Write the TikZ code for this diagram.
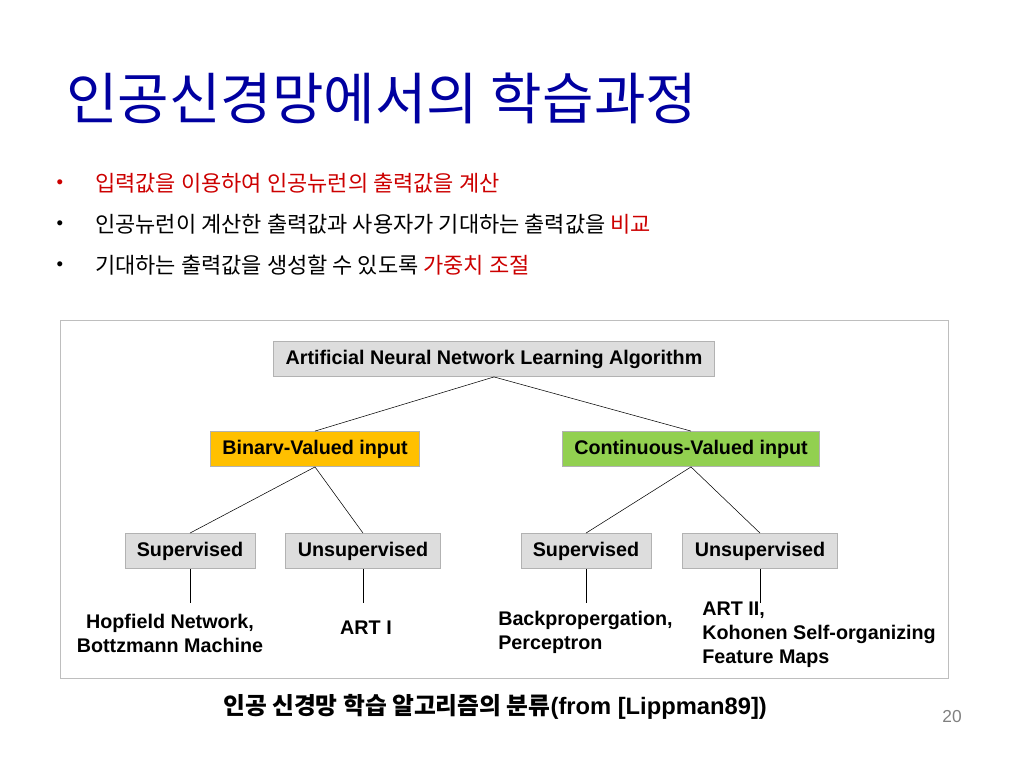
\documentclass[tikz,border=0pt]{standalone}
\usepackage{fontspec}
\setmainfont{Liberation Sans}
\newfontfamily\kor{Noto Sans CJK KR}
\definecolor{titleblue}{RGB}{0,0,160}
\definecolor{keyred}{RGB}{204,0,0}
\definecolor{boxfill}{RGB}{221,221,221}
\definecolor{boxline}{RGB}{178,178,178}
\definecolor{framegray}{RGB}{190,190,190}
\definecolor{binfill}{RGB}{255,192,0}
\definecolor{contfill}{RGB}{146,208,80}
\tikzset{
  catbox/.style={draw=boxline, fill=boxfill, inner xsep=9pt, minimum height=26.5pt,
    font=\bfseries\fontsize{14.8}{17}\selectfont},
  leaf/.style={font=\bfseries\fontsize{14.8}{18}\selectfont, inner sep=0pt},
  bulletline/.style={anchor=west, font=\kor\fontsize{16.5}{19}\selectfont, inner sep=0pt},
  dot/.style={font=\fontsize{14}{14}\selectfont, inner sep=0pt},
}
\begin{document}
\begin{tikzpicture}[x=0.75pt,y=-0.75pt]
\useasboundingbox (0,0) rectangle (1024,768);
% title and bullets
\node[anchor=west, inner sep=0pt, text=titleblue, font=\kor\fontsize{42}{48}\selectfont] (title) at (66,98) {인공신경망에서의 학습과정};
\node[dot, text=keyred] (d1) at (60,184) {\textbullet};
\node[dot] (d2) at (60,225) {\textbullet};
\node[dot] (d3) at (60,266) {\textbullet};
\node[bulletline, text=keyred] (l1) at (95,183) {입력값을 이용하여 인공뉴런의 출력값을 계산};
\node[bulletline] (l2) at (95,224) {인공뉴런이 계산한 출력값과 사용자가 기대하는 출력값을 \textcolor{keyred}{비교}};
\node[bulletline] (l3) at (95,265) {기대하는 출력값을 생성할 수 있도록 \textcolor{keyred}{가중치 조절}};
% tree
\draw[framegray] (60,320) rectangle (948,678);
\node[catbox] (root) at (494,359) {Artificial Neural Network Learning Algorithm};
\node[catbox, fill=binfill] (bin) at (315,449) {Binarv-Valued input};
\node[catbox, fill=contfill] (cont) at (691,449) {Continuous-Valued input};
\node[catbox] (sup1) at (190,551) {Supervised};
\node[catbox] (uns1) at (363,551) {Unsupervised};
\node[catbox] (sup2) at (586,551) {Supervised};
\node[catbox] (uns2) at (760,551) {Unsupervised};
\node[leaf, align=center] (hop) at (170,633) {Hopfield Network,\\Bottzmann Machine};
\node[leaf] (art1) at (366,628) {ART I};
\node[leaf, align=left, anchor=west] (bp) at (498,632) {Backpropergation,\\Perceptron};
\node[leaf, align=left, anchor=west] (art2) at (702,635) {ART II,\\Kohonen Self-organizing\\Feature Maps};
\coordinate (leafline) at (0,603);
\draw (root.south) -- (bin.north);
\draw (root.south) -- (cont.north);
\draw (bin.south) -- (sup1.north);
\draw (bin.south) -- (uns1.north);
\draw (cont.south) -- (sup2.north);
\draw (cont.south) -- (uns2.north);
\foreach \n in {sup1,uns1,sup2,uns2}
  \draw (\n.south) -- (\n.south |- leafline);
% caption
\node[font=\bfseries\fontsize{17.8}{20}\selectfont] (caption) at (495,707) {{\kor 인공 신경망 학습 알고리즘의 분류}(from [Lippman89])};
\node[text=gray, font=\fontsize{13}{15}\selectfont] (page) at (952,717) {20};
\end{tikzpicture}
\end{document}
